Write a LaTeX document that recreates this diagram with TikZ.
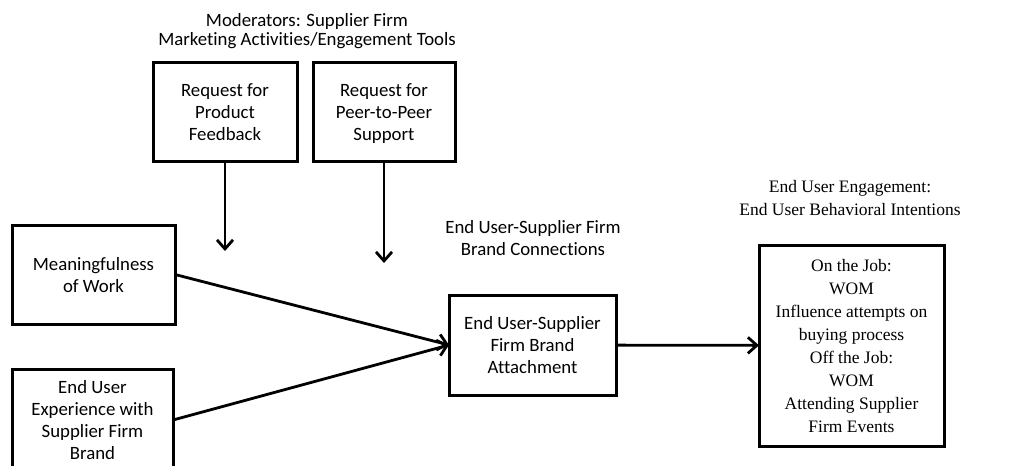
\documentclass[tikz,border=0pt]{standalone}
\usepackage{fontspec}
\setmainfont{Carlito}[Ligatures=NoCommon]
\newfontfamily\serifnote{Liberation Serif}
\usetikzlibrary{arrows.meta, positioning}

\begin{document}
\begin{tikzpicture}[x=1pt, y=-1pt,% pixel grid, y pointing down
         > = {Straight Barb[length=9pt, width=16pt]},
box/.style = {draw, line width=3pt, align=center,
              inner sep=0pt, outer sep=0pt,
              execute at begin node=\rule{0pt}{13pt},% same first line height
              text depth=0pt,% descenders do not shift the text
              font=\fontsize{18.8}{22}\selectfont},
lbl/.style = {align=center, font=\fontsize{18.8}{22}\selectfont},
ser/.style = {font=\serifnote\fontsize{17.5}{23}\selectfont},
arr/.style = {->, line width=2.8pt}
                        ]
	\useasboundingbox (0,0) rectangle (1010,466);

	% moderators
	\node[lbl, font=\fontsize{18.8}{19.5}\selectfont] (modtitle) at (307,31)
		{Moderators: Supplier Firm\\Marketing Activities/Engagement Tools};
	\node[box, minimum width=144pt, minimum height=99pt] (feedback) at (225,112)
		{Request for\\Product\\Feedback};
	\node[box, minimum width=142pt, minimum height=99pt] (peer) at (384,112)
		{Request for\\Peer-to-Peer\\Support};
	\coordinate (feedtip) at (225,251);
	\coordinate (peertip) at (384,263);

	% antecedents
	\node[box, minimum width=163pt, minimum height=99pt] (meaning) at (93.5,274.5)
		{Meaningfulness\\of Work};
	\node[box, minimum width=161pt, minimum height=102pt] (experience) at (92.5,420)
		{End User\\Experience with\\Supplier Firm\\Brand};

	% brand connection
	\node[lbl] (conntitle) at (533,238)
		{End User-Supplier Firm\\Brand Connections};
	\node[box, minimum width=167pt, minimum height=100pt] (attach) at (532.5,345)
		{End User-Supplier\\Firm Brand\\Attachment};

	% outcomes
	\node[lbl, ser] (engtitle) at (850,198)
		{End User Engagement:\\End User Behavioral Intentions};
	\node[box, ser, minimum width=185pt, minimum height=201pt] (intent) at (851.5,345.5)
		{On the Job:\\WOM\\Influence attempts on\\buying process\\Off the Job:\\WOM\\Attending Supplier\\Firm Events};

	\draw[arr] (feedback) -- (feedtip);
	\draw[arr] (peer) -- (peertip);
	\draw[arr] (meaning.east) -- (attach.west);
	\draw[arr] (experience.east) -- (attach.west);
	\draw[arr] (attach) -- (intent);
\end{tikzpicture}
\end{document}
